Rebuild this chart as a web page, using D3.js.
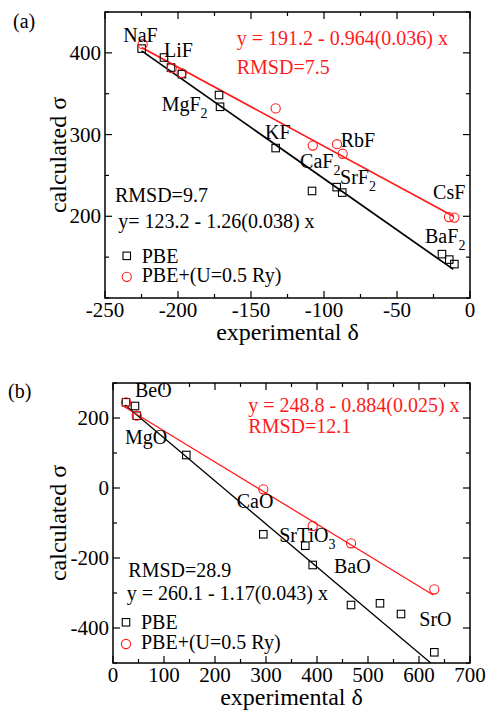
<!DOCTYPE html>
<html>
<head>
<meta charset="utf-8">
<script src="https://cdn.jsdelivr.net/npm/d3@7"></script>
<style>
  body { margin: 0; background: #fff; }
</style>
</head>
<body>
<svg id="chart" width="489" height="710"></svg>
<script>
// ---- panel (a): fluorides ----
const aPbe = [
  [-224.9, 405.2], [-209.6, 394.3], [-204.8, 382], [-197.3, 374],
  [-171.9, 348.4], [-171.2, 334], [-133.1, 283.5], [-108.2, 231],
  [-91.3, 235.7], [-87.5, 229], [-19.2, 153.7], [-14.2, 147], [-10.7, 141.5]
]
const aPbeU = [
  [-224.2, 410.6], [-204.3, 381.3], [-197.5, 375.2], [-133.1, 332],
  [-107.7, 286.6], [-91.1, 288.2], [-87.2, 276.5], [-14.4, 199], [-10.7, 198.4]
]
const aFitPbe = [[-224.9, 402.4], [-11.4, 135]]
const aFitPbeU = [[-224.9, 406.5], [-11.4, 200]]
// [name, subscript, x, y]
const aLabels = [
  ['NaF', '', -237.5, 413.4], ['LiF', '', -209.6, 395.1], ['MgF', '2', -211.2, 329.3],
  ['KF', '', -140.4, 295.1], ['RbF', '', -88.6, 284.5], ['CaF', '2', -116.4, 259.4],
  ['SrF', '2', -89, 239.9], ['CsF', '', -25.3, 221.6], ['BaF', '2', -30.8, 166.7]
]
const aXTicks = [-250, -200, -150, -100, -50, 0]
const aYTicks = [200, 300, 400]

// ---- panel (b): oxides ----
const bPbe = [
  [25.5, 244.9], [43.1, 234.3], [46.5, 206.6], [143.7, 94.3], [294.7, -132.3],
  [377, -164.9], [391.6, -220], [466.7, -334.3], [523.5, -329.4], [564.7, -360], [630, -469.4]
]
const bPbeU = [
  [25.5, 244.9], [46.5, 206.6], [294.7, -3.7], [391.6, -108.6], [466.7, -158], [630, -289.4]
]
const bFitPbe = [[23.5, 237], [623, -500]]
const bFitPbeU = [[22.2, 232.3], [628, -305.7]]
const bLabels = [
  ['BeO', '', 43.1, 259.1], ['MgO', '', 23.5, 124.9], ['CaO', '', 242.5, -58],
  ['SrTiO', '3', 326, -153.4], ['BaO', '', 433.3, -243.7], ['SrO', '', 600.6, -394.3]
]
const bXTicks = [0, 100, 200, 300, 400, 500, 600, 700]
const bYTicks = [-400, -200, 0, 200]

const RED = '#ff1a1a'
const FONT = "'Liberation Serif'"
const svg = d3.select('#chart')

const panels = [
  {
    tag: '(a)', tagPos: [13, 28],
    box: { left: 105, right: 470, top: 12, bottom: 298 },
    xDomain: [-250, 0], yDomain: [100, 450], minorX: 25, minorY: 50,
    xTicks: aXTicks, yTicks: aYTicks,
    pbe: aPbe, pbeU: aPbeU, fitPbe: aFitPbe, fitPbeU: aFitPbeU, labels: aLabels,
    redEq: ['y = 191.2 - 0.964(0.036) x', 'RMSD=7.5'], redPos: [-159.8, 409.8], redGap: 29.3,
    blackEq: ['RMSD=9.7', 'y= 123.2 - 1.26(0.038) x'], blackPos: [[-243.2, 217.4], [-240.9, 186.2]],
    legendPos: [-235.1, 151.6], legendGap: 21,
    xLabelY: 340, yLabelX: 66
  },
  {
    tag: '(b)', tagPos: [8, 398],
    box: { left: 113, right: 470, top: 383, bottom: 663 },
    xDomain: [0, 700], yDomain: [-500, 300], minorX: 50, minorY: 100,
    xTicks: bXTicks, yTicks: bYTicks,
    pbe: bPbe, pbeU: bPbeU, fitPbe: bFitPbe, fitPbeU: bFitPbeU, labels: bLabels,
    redEq: ['y = 248.8 - 0.884(0.025) x', 'RMSD=12.1'], redPos: [265.3, 218], redGap: 21.6,
    blackEq: ['RMSD=28.9', 'y = 260.1 - 1.17(0.043) x'], blackPos: [[30, -255.1], [26.9, -320]],
    legendPos: [25.5, -383.7], legendGap: 21.7,
    xLabelY: 705, yLabelX: 66
  }
]

// every text gets its own font attribute
function addText(sel, size) {
  return sel.append('text').attr('font-family', FONT).attr('font-size', size)
}

function drawPanel(p, idx) {
  const b = p.box
  const x = d3.scaleLinear().domain(p.xDomain).range([b.left, b.right])
  const y = d3.scaleLinear().domain(p.yDomain).range([b.bottom, b.top])
  const g = svg.append('g').attr('class', 'panel')

  addText(g, 20).attr('x', p.tagPos[0]).attr('y', p.tagPos[1]).text(p.tag)

  const clipId = 'clip' + idx
  g.append('clipPath').attr('id', clipId)
    .append('rect')
    .attr('x', b.left).attr('y', b.top)
    .attr('width', b.right - b.left).attr('height', b.bottom - b.top)

  // ticks (inside, mirrored on all four sides)
  const majX = p.xTicks
  const minX = d3.range(p.xDomain[0], p.xDomain[1] + 1e-9, p.minorX).filter(v => !majX.includes(v))
  const majY = p.yTicks
  const minY = d3.range(p.yDomain[0], p.yDomain[1] + 1e-9, p.minorY).filter(v => !majY.includes(v))
  const tk = g.append('g').attr('stroke', '#000').attr('stroke-width', 1.2)
  const xt = [...majX.map(v => [v, 7]), ...minX.map(v => [v, 4])]
  xt.forEach(([v, len]) => {
    tk.append('line').attr('x1', x(v)).attr('x2', x(v)).attr('y1', b.bottom).attr('y2', b.bottom - len)
    tk.append('line').attr('x1', x(v)).attr('x2', x(v)).attr('y1', b.top).attr('y2', b.top + len)
  })
  const yt = [...majY.map(v => [v, 7]), ...minY.map(v => [v, 4])]
  yt.forEach(([v, len]) => {
    tk.append('line').attr('y1', y(v)).attr('y2', y(v)).attr('x1', b.left).attr('x2', b.left + len)
    tk.append('line').attr('y1', y(v)).attr('y2', y(v)).attr('x1', b.right).attr('x2', b.right - len)
  })

  g.append('rect')
    .attr('x', b.left).attr('y', b.top)
    .attr('width', b.right - b.left).attr('height', b.bottom - b.top)
    .attr('fill', 'none').attr('stroke', '#000').attr('stroke-width', 1.5)

  majX.forEach(v => {
    addText(g, 21).attr('x', x(v)).attr('y', b.bottom + 19)
      .attr('text-anchor', 'middle').text(v)
  })
  majY.forEach(v => {
    addText(g, 21).attr('x', b.left - 4).attr('y', y(v) + 7)
      .attr('text-anchor', 'end').text(v)
  })

  addText(g, 24)
    .attr('x', (b.left + b.right) / 2).attr('y', p.xLabelY)
    .attr('text-anchor', 'middle').text('experimental δ')
  addText(g, 24)
    .attr('transform', `translate(${p.yLabelX},${(b.top + b.bottom) / 2}) rotate(-90)`)
    .attr('text-anchor', 'middle').text('calculated σ')

  // fit lines
  const line = d3.line().x(d => x(d[0])).y(d => y(d[1]))
  const fits = g.append('g').attr('clip-path', `url(#${clipId})`)
  fits.append('path').datum(p.fitPbe).attr('d', line)
    .attr('fill', 'none').attr('stroke', '#000').attr('stroke-width', idx ? 1.3 : 1.7)
  fits.append('path').datum(p.fitPbeU).attr('d', line)
    .attr('fill', 'none').attr('stroke', RED).attr('stroke-width', idx ? 1.3 : 1.7)

  // markers
  const s = 7.5
  g.append('g').selectAll('rect').data(p.pbe).join('rect')
    .attr('x', d => x(d[0]) - s / 2).attr('y', d => y(d[1]) - s / 2)
    .attr('width', s).attr('height', s)
    .attr('fill', 'none').attr('stroke', '#000').attr('stroke-width', 1.1)
  g.append('g').selectAll('circle').data(p.pbeU).join('circle')
    .attr('cx', d => x(d[0])).attr('cy', d => y(d[1])).attr('r', 4.6)
    .attr('fill', 'none').attr('stroke', RED).attr('stroke-width', 1.1)

  // compound labels
  p.labels.forEach(([name, sub, lx, ly]) => {
    const t = addText(g, 20).attr('x', x(lx)).attr('y', y(ly)).text(name)
    if (sub) t.append('tspan').attr('font-size', 14).attr('dy', 7).text(sub)
  })

  // fit annotations
  p.redEq.forEach((txt, i) => {
    addText(g, 20).attr('fill', RED)
      .attr('x', x(p.redPos[0])).attr('y', y(p.redPos[1]) + i * p.redGap).text(txt)
  })
  p.blackEq.forEach((txt, i) => {
    addText(g, 20)
      .attr('x', x(p.blackPos[i][0])).attr('y', y(p.blackPos[i][1])).text(txt)
  })

  // legend
  const lx = x(p.legendPos[0]), ly = y(p.legendPos[1])
  g.append('rect').attr('x', lx - s / 2).attr('y', ly - s / 2).attr('width', s).attr('height', s)
    .attr('fill', 'none').attr('stroke', '#000').attr('stroke-width', 1.1)
  addText(g, 20).attr('x', lx + 15).attr('y', ly + 7).text('PBE')
  g.append('circle').attr('cx', lx).attr('cy', ly + p.legendGap).attr('r', 4.6)
    .attr('fill', 'none').attr('stroke', RED).attr('stroke-width', 1.1)
  addText(g, 20).attr('x', lx + 15).attr('y', ly + p.legendGap + 5)
    .text('PBE+(U=0.5 Ry)')
}

panels.forEach(drawPanel)
</script>
</body>
</html>
